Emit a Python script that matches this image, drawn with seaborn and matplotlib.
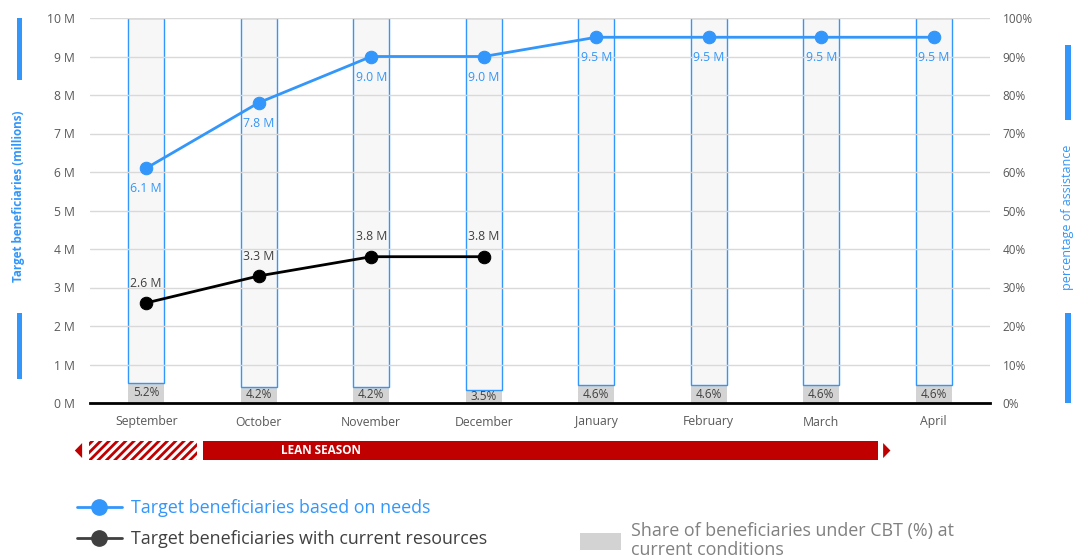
import numpy as np
import matplotlib
matplotlib.use("Agg")
import matplotlib.pyplot as plt
import seaborn as sns
from matplotlib.patches import Rectangle, Polygon, Patch
from matplotlib.lines import Line2D
import matplotlib.transforms as mtrans

# ---------------- data ----------------
months = ['September', 'October', 'November', 'December',
          'January', 'February', 'March', 'April']
needs = [6.1, 7.8, 9.0, 9.0, 9.5, 9.5, 9.5, 9.5]          # millions
current = [2.6, 3.3, 3.8, 3.8]                          # millions
cbt_share = [5.2, 4.2, 4.2, 3.5, 4.6, 4.6, 4.6, 4.6]     # percent
left_ticks = [f"{v} M" for v in range(0, 11)]
right_ticks = [f"{v}%" for v in range(0, 101, 10)]
total_pct = 100

BLUE = '#3296fa'
GREY_TXT = '#595959'
RED = '#c00000'

sns.set_theme(style='white')
plt.rcParams['font.family'] = ['Open Sans', 'DejaVu Sans']
plt.rcParams['hatch.linewidth'] = 2.0

fig = plt.figure(figsize=(10.83, 5.59), dpi=100)
ax = fig.add_axes([90/1083, 1-403/559, 900/1083, 385/559])
axr = ax.twinx()
ax.set_zorder(axr.get_zorder() + 1)
ax.patch.set_visible(False)

# ---------------- bars (right axis) ----------------
remainder = [total_pct - s for s in cbt_share]
sns.barplot(x=months, y=cbt_share, color='#d3d3d3', saturation=1, width=0.32,
            errorbar=None, edgecolor='none', linewidth=0, ax=axr)
sns.barplot(x=months, y=remainder, bottom=cbt_share, color='#f7f7f7', saturation=1,
            width=0.32, errorbar=None, edgecolor=BLUE, linewidth=1, ax=axr)
for i, s in enumerate(cbt_share):
    axr.text(i, s/2, f"{s}%", ha='center', va='center', fontsize=8.5, color='#404040')

axr.set_ylim(0, 100)
axr.set_yticks(range(0, 101, 10), right_ticks)
axr.set_ylabel('')
axr.tick_params(axis='y', length=0, pad=9, labelsize=8.5, labelcolor=GREY_TXT)

# ---------------- lines (left axis) ----------------
xpos_needs = np.arange(len(needs))
xpos_cur = np.arange(len(current))
sns.lineplot(x=xpos_needs, y=needs, color=BLUE, lw=2, marker='o', markersize=9,
             markeredgecolor=BLUE, ax=ax, zorder=4)
sns.lineplot(x=xpos_cur, y=current, color='black', lw=2, marker='o', markersize=9,
             markeredgecolor='black', ax=ax, zorder=4)
for x, v in zip(xpos_needs, needs):
    ax.annotate(f"{v} M", (x, v), xytext=(0, -14.8), textcoords='offset points',
                ha='center', va='center', fontsize=8.8, color=BLUE)
for x, v in zip(xpos_cur, current):
    ax.annotate(f"{v} M", (x, v), xytext=(0, 14.2), textcoords='offset points',
                ha='center', va='center', fontsize=8.8, color='#404040')

ax.set_ylim(0, 10)
ax.set_xlim(-0.5, len(months) - 0.5)
ax.set_yticks(range(0, 11), left_ticks)
ax.set_xticks(range(len(months)), months)
ax.tick_params(axis='y', length=0, pad=11, labelsize=8.7, labelcolor=GREY_TXT)
ax.tick_params(axis='x', length=0, pad=9, labelsize=8.8, labelcolor=GREY_TXT)
ax.grid(axis='y', color='#d9d9d9', lw=1)
ax.grid(axis='x', visible=False)
ax.set_axisbelow(True)
ax.set_xlabel('')
ax.set_ylabel('')
for a in (ax, axr):
    for sp in a.spines.values():
        sp.set_visible(False)
ax.spines['bottom'].set_visible(True)
ax.spines['bottom'].set_color('black')
ax.spines['bottom'].set_linewidth(2)

# ---------------- lean season strip ----------------
tr = mtrans.blended_transform_factory(ax.transData, ax.transAxes)
y0, y1 = -0.148, -0.099
ax.add_patch(Rectangle((-0.51, y0), 0.96, y1 - y0, transform=tr, clip_on=False,
                       facecolor='white', edgecolor=RED, hatch='////', lw=0))
ax.add_patch(Rectangle((0.505, y0), 6.0, y1 - y0, transform=tr, clip_on=False,
                       facecolor=RED, edgecolor='none'))
ax.add_patch(Polygon([(-0.57, y0 + 0.005), (-0.57, y1 - 0.005), (-0.635, (y0 + y1)/2)],
                     closed=True, transform=tr, clip_on=False, facecolor=RED, edgecolor='none'))
ax.add_patch(Polygon([(6.55, y0 + 0.005), (6.55, y1 - 0.005), (6.615, (y0 + y1)/2)],
                     closed=True, transform=tr, clip_on=False, facecolor=RED, edgecolor='none'))
ax.text(1.553, (y0 + y1)/2, 'LEAN SEASON', transform=tr, ha='center', va='center',
        color='white', fontsize=8.5, fontweight='bold')

# ---------------- side decorations ----------------
def fx(px):
    return px / 1083
def fy(py):
    return 1 - py / 559

fig.add_artist(Rectangle((fx(16.5), fy(80)), fx(5.5), (80 - 18)/559, facecolor=BLUE, edgecolor='none'))
fig.add_artist(Rectangle((fx(16.5), fy(379)), fx(5.5), (379 - 313)/559, facecolor=BLUE, edgecolor='none'))
fig.text(fx(19), fy(196), 'Target beneficiaries (millions)', rotation=90, ha='center', va='center',
         color=BLUE, fontsize=8.4, fontweight='bold')
fig.add_artist(Rectangle((fx(1065), fy(120)), fx(6), (120 - 45)/559, facecolor=BLUE, edgecolor='none'))
fig.add_artist(Rectangle((fx(1065), fy(403)), fx(6), (403 - 313)/559, facecolor=BLUE, edgecolor='none'))
fig.text(fx(1067), fy(217), 'percentage of assistance', rotation=90, ha='center', va='center',
         color=BLUE, fontsize=9)

# ---------------- legends ----------------
h1 = Line2D([0], [0], color=BLUE, lw=2, marker='o', markersize=11, markeredgecolor=BLUE)
h2 = Line2D([0], [0], color='#404040', lw=2, marker='o', markersize=11, markeredgecolor='#404040')
leg1 = fig.legend([h1, h2], ['Target beneficiaries based on needs',
                             'Target beneficiaries with current resources'],
                  loc='upper left', bbox_to_anchor=(fx(77), fy(499)), frameon=False,
                  fontsize=12.9, handlelength=2.5, handletextpad=0.5, labelspacing=0.72,
                  borderpad=0, borderaxespad=0)
leg1.get_texts()[0].set_color(BLUE)
leg1.get_texts()[1].set_color('#404040')

h3 = Patch(facecolor='#d3d3d3', edgecolor='none')
leg2 = fig.legend([h3], ['Share of beneficiaries under CBT (%) at\ncurrent conditions'],
                  loc='upper left', bbox_to_anchor=(fx(580), fy(522)), frameon=False,
                  fontsize=12.9, handlelength=2.3, handleheight=1.05, handletextpad=0.55,
                  borderpad=0, borderaxespad=0)
leg2.get_texts()[0].set_color('#808080')
leg2.get_texts()[0].set_linespacing(1.1)

fig.savefig('out.png', dpi=100)
